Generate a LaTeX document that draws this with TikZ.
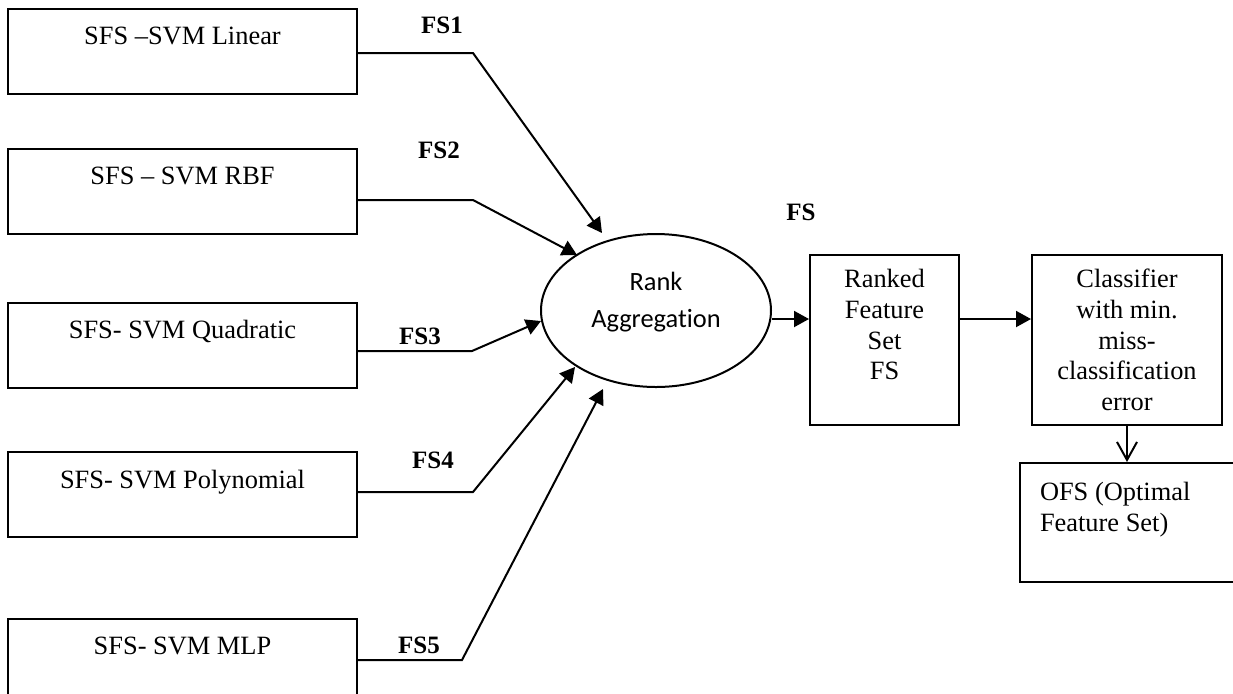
\documentclass[tikz,border=0pt]{standalone}
\usepackage{fontspec}
\setmainfont{Liberation Serif}
\newfontfamily\calibri[Ligatures=NoCommon]{Carlito}
\usetikzlibrary{arrows.meta,shapes.geometric}

\begin{document}
\begin{tikzpicture}[x=0.5pt,y=-0.5pt,line width=1pt,
  >={Triangle[length=7.5pt,width=8pt]},
  svmbox/.style={draw,minimum width=174.5pt,minimum height=42.5pt,inner sep=0pt,
    align=center,font=\fontsize{13.2}{15.4}\selectfont},
  blkbox/.style={draw,minimum height=85pt,inner sep=0pt,
    align=center,font=\fontsize{13.2}{15.4}\selectfont},
  fslab/.style={font=\fontsize{12.5}{14}\selectfont\bfseries}]
  \useasboundingbox (0,0) rectangle (1233,693);

  % the five SFS runs
  \node[svmbox] (lin)  at (182.5,51)  {SFS –SVM Linear\\ \mbox{}};
  \node[svmbox] (rbf)  at (182.5,191) {SFS – SVM RBF\\ \mbox{}};
  \node[svmbox] (quad) at (182.5,345) {SFS- SVM Quadratic\\ \mbox{}};
  \node[svmbox] (poly) at (182.5,494.5) {SFS- SVM Polynomial\\ \mbox{}};
  \node[svmbox] (mlp)  at (182.5,661.5) {SFS- SVM MLP\\ \mbox{}};

  \node[draw,ellipse,minimum width=115pt,minimum height=76.5pt,inner sep=0pt,
    align=center,font=\calibri\fontsize{13.2}{18.5}\selectfont]
    (agg) at (656,310.5) {Rank\\Aggregation\\[-8pt]\mbox{}};
  \node[blkbox,minimum width=74.5pt] (rfs) at (884.5,340) {Ranked\\Feature\\Set\\FS\\ \mbox{}};
  \node[blkbox,minimum width=95pt]   (clf) at (1127,340) {Classifier\\with min.\\miss-\\classification\\error};
  \node[draw,anchor=north west,minimum height=59.5pt,text width=93pt,inner xsep=10pt,inner ysep=0pt,
    align=flush left,font=\fontsize{13.2}{15.4}\selectfont]
    (ofs) at (1019,462) {OFS (Optimal\\Feature Set)\\ \mbox{}};

  % labels
  \node[fslab] (fs1) at (442,25)  {FS1};
  \node[fslab] (fs2) at (439,150) {FS2};
  \node[fslab] (fs3) at (420,336) {FS3};
  \node[fslab] (fs4) at (433,460) {FS4};
  \node[fslab] (fs5) at (419,645) {FS5};
  \node[fslab] (fs)  at (801,212) {FS};

  % bends and arrow ends
  \coordinate (b1) at (473,53);  \coordinate (t1) at (602,233);
  \coordinate (b2) at (473,200); \coordinate (t2) at (577,255);
  \coordinate (b3) at (472,351); \coordinate (t3) at (541,321);
  \coordinate (b4) at (473,492); \coordinate (t4) at (575,367);
  \coordinate (b5) at (462,660); \coordinate (t5) at (603,389);
  \coordinate (lvl) at (0,319);

  \draw[->] (lin.east |- b1)  -- (b1) -- (t1);
  \draw[->] (rbf.east |- b2)  -- (b2) -- (t2);
  \draw[->] (quad.east |- b3) -- (b3) -- (t3);
  \draw[->] (poly.east |- b4) -- (b4) -- (t4);
  \draw[->] (mlp.east |- b5)  -- (b5) -- (t5);

  \draw[->] (agg.east |- lvl) -- (rfs.west |- lvl);
  \draw[->] (rfs.east |- lvl) -- (clf.west |- lvl);
  \draw[-{Straight Barb[length=9pt,width=10pt]}] (clf.south) -- (clf.south |- ofs.north);
\end{tikzpicture}
\end{document}
